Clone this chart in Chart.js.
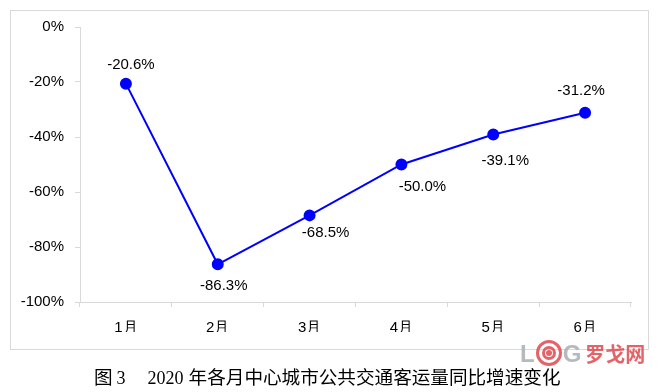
<!DOCTYPE html>
<html>
<head>
<meta charset="utf-8">
<script src="https://cdn.jsdelivr.net/npm/chart.js@4"></script>
<style>
  body { margin: 0; background: #fff; }
  #wrap { position: relative; width: 660px; height: 392px; }
  #frame { position: absolute; left: 10px; top: 10px; width: 637px; height: 338px; border: 1px solid #d9d9d9; }
  canvas { position: absolute; left: 0; top: 0; }
  #caption { position: absolute; left: 94px; top: 366px; line-height: 20px; color: #000; white-space: nowrap; }
  #caption .cn { font-family: "Noto Sans CJK SC", sans-serif; font-size: 18.6px; }
  #caption .num { font-family: "Liberation Serif", serif; font-size: 18px; }
  #logo { position: absolute; left: 520px; top: 340px; height: 26px; font-family: "Liberation Sans", Arial, sans-serif;
    font-weight: bold; font-size: 24px; line-height: 26px; white-space: nowrap; opacity: 0.85; }
  #logo .g { color: #a9aeb3; }
  #logo .ring { display: inline-block; width: 20px; height: 20px; border: 3px solid #e0484f; border-radius: 50%;
    position: relative; vertical-align: -4px; margin: 0 1px; box-sizing: content-box; }
  #logo .ring:before { content: ""; position: absolute; left: 3px; top: 3px; width: 8px; height: 8px; border: 3px solid #e0484f; border-radius: 50%; }
  #logo .ring:after { content: ""; position: absolute; left: 7px; top: 7px; width: 6px; height: 6px; border-radius: 50%; background: #e0484f; }
  #logo .cn { color: #e0484f; font-family: "Noto Sans CJK SC", sans-serif; font-size: 20px; margin-left: 4px; }
</style>
</head>
<body>
<div id="wrap">
  <div id="frame"></div>
  <canvas id="chart" width="660" height="392"></canvas>
  <div id="caption"><span class="cn">图</span><span class="num" style="margin-left:4px">3</span><span class="num" style="margin-left:22px">2020</span><span class="cn" style="margin-left:5px">年各月中心城市公共交通客运量同比增速变化</span></div>
  <div id="logo"><span class="g">L</span><span class="ring"></span><span class="g">G</span><span class="cn">罗戈网</span></div>
</div>
<script>
// data
const months = ['1月', '2月', '3月', '4月', '5月', '6月'];
const growth = [-20.6, -86.3, -68.5, -50.0, -39.1, -31.2];

// where each value label sits relative to its point (px)
const labelDx = [5, 6, 16, 21, 12, -4];
const labelDy = [-19, 22, 17, 22, 26, -22];

// draw value labels next to each point
const valueLabels = {
  id: 'valueLabels',
  afterDatasetsDraw(chart) {
    const ctx = chart.ctx;
    const meta = chart.getDatasetMeta(0);
    ctx.save();
    ctx.font = '15px "Liberation Sans", Arial, sans-serif';
    ctx.fillStyle = '#000';
    ctx.textAlign = 'center';
    ctx.textBaseline = 'middle';
    meta.data.forEach((pt, i) => {
      ctx.fillText(growth[i].toFixed(1) + '%', pt.x + labelDx[i], pt.y + labelDy[i]);
    });
    ctx.restore();
  }
};

const tickFont = { family: '"Liberation Sans", Arial, sans-serif', size: 15 };

new Chart(document.getElementById('chart'), {
  type: 'line',
  data: {
    labels: months,
    datasets: [{
      data: growth,
      borderColor: '#0000ff',
      backgroundColor: '#0000ff',
      borderWidth: 2,
      pointRadius: 5,
      pointHoverRadius: 5,
      tension: 0
    }]
  },
  options: {
    responsive: false,
    animation: false,
    events: [],
    layout: { padding: { left: 10, top: 27, right: 29, bottom: 60 } },
    plugins: { legend: { display: false }, tooltip: { enabled: false } },
    scales: {
      x: {
        offset: true,
        afterFit(scale) { scale.height = 30; },
        grid: { offset: true, drawOnChartArea: false, color: '#d9d9d9', tickLength: 5 },
        border: { color: '#d9d9d9' },
        ticks: { color: '#000', font: tickFont, padding: 12 }
      },
      y: {
        min: -100,
        max: 0,
        afterFit(scale) { scale.width = 70; },
        grid: { drawOnChartArea: false, color: '#d9d9d9', tickLength: 5 },
        border: { color: '#d9d9d9' },
        ticks: { stepSize: 20, color: '#000', font: tickFont, padding: 11, callback: v => v + '%' }
      }
    }
  },
  plugins: [valueLabels]
});
</script>
</body>
</html>
